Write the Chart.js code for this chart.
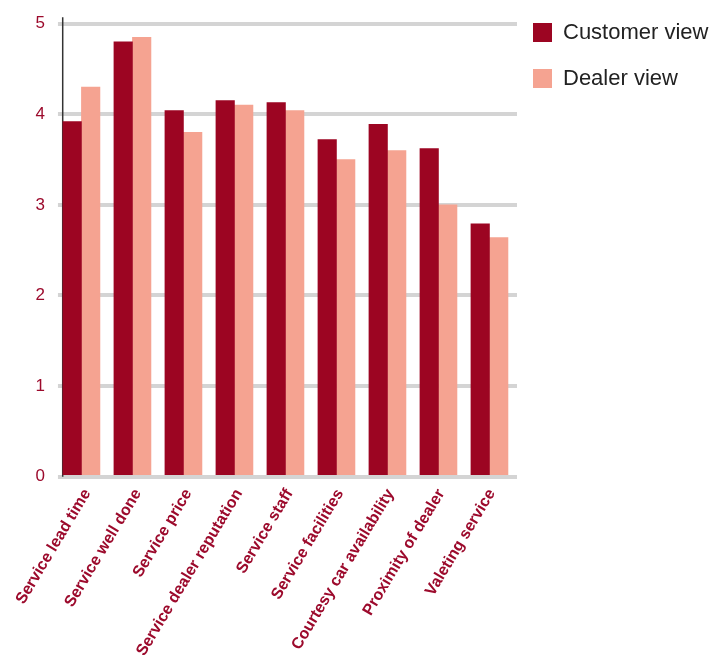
<!DOCTYPE html>
<html>
<head>
<meta charset="utf-8">
<script src="https://cdn.jsdelivr.net/npm/chart.js@4/dist/chart.umd.min.js"></script>
<style>
  html, body { margin: 0; padding: 0; background: #fff; }
  #wrap { width: 714px; height: 662px; }
</style>
</head>
<body>
<div id="wrap"><canvas id="grafico"></canvas></div>
<script>
const categorias = [
    "Service lead time",
    "Service well done",
    "Service price",
    "Service dealer reputation",
    "Service staff",
    "Service facilities",
    "Courtesy car availability",
    "Proximity of dealer",
    "Valeting service"
]
const customerView = [3.92, 4.80, 4.04, 4.15, 4.13, 3.72, 3.89, 3.62, 2.79]
const dealerView = [4.30, 4.85, 3.80, 4.10, 4.04, 3.50, 3.60, 3.00, 2.64]
const yTicks = [0, 1, 2, 3, 4, 5]

const VERMELHO = '#9c0522'
const SALMAO = '#f5a391'
const TEXTO = '#9c0a2c'

Chart.defaults.font.family = 'Liberation Sans'

// linha do eixo y, comeca um pouco acima do 5
const eixoY = {
    id: 'eixoY',
    beforeDatasetsDraw(chart) {
        const { ctx, chartArea, scales } = chart
        const topo = scales.y.getPixelForValue(5.07)
        ctx.save()
        ctx.strokeStyle = '#333'
        ctx.lineWidth = 1.5
        ctx.beginPath()
        ctx.moveTo(chartArea.left + 0.75, topo)
        ctx.lineTo(chartArea.left + 0.75, chartArea.bottom)
        ctx.stroke()
        ctx.restore()
    }
}

const ctx = document.getElementById('grafico')
new Chart(ctx, {
    type: 'bar',
    data: {
        labels: categorias,
        datasets: [
            {
                label: 'Customer view',
                data: customerView.map((v, i) => ({ x: i, y: v })),
                backgroundColor: VERMELHO,
                xAxisID: 'xb',
                barThickness: 18.5
            },
            {
                label: 'Dealer view',
                data: dealerView.map((v, i) => ({ x: i, y: v })),
                backgroundColor: SALMAO,
                xAxisID: 'xb',
                barThickness: 18.5
            }
        ]
    },
    options: {
        responsive: true,
        maintainAspectRatio: false,
        animation: false,
        layout: { padding: { top: 5.5, left: 22.5, right: 0, bottom: -6.5 } },
        plugins: {
            tooltip: { enabled: false },
            legend: {
                position: 'right',
                align: 'start',
                maxWidth: 197,
                labels: {
                    color: '#222',
                    font: { size: 22, lineHeight: 30 / 22 },
                    boxWidth: 19,
                    boxHeight: 19,
                    padding: 16,
                    generateLabels(chart) {
                        // texto em array: o passo entre itens segue o lineHeight
                        const itens = Chart.defaults.plugins.legend.labels.generateLabels(chart)
                        itens.forEach(it => { it.text = [it.text] })
                        return itens
                    }
                }
            }
        },
        scales: {
            // eixo dos nomes
            x: {
                type: 'category',
                offset: true,
                grid: { display: false, drawTicks: false },
                border: { display: false },
                ticks: {
                    color: TEXTO,
                    font: { size: 16, weight: 'bold' },
                    minRotation: 59,
                    maxRotation: 59,
                    autoSkip: false,
                    padding: 9
                },
                afterFit(scale) {
                    scale.paddingLeft = 0
                    scale.paddingRight = 0
                }
            },
            // eixo escondido onde ficam as barras (par encostado a esquerda da categoria)
            xb: {
                type: 'linear',
                display: false,
                offset: false,
                min: -0.382,
                max: 8.54
            },
            y: {
                min: 0,
                max: 5.2,
                afterBuildTicks(scale) {
                    scale.ticks = yTicks.map(v => ({ value: v }))
                },
                afterFit(scale) {
                    scale.paddingTop = 0
                    scale.paddingBottom = 0
                },
                grid: { color: '#d4d4d4', lineWidth: 4, tickLength: 4 },
                border: { display: false },
                ticks: {
                    color: TEXTO,
                    font: { size: 17 },
                    padding: 13
                }
            }
        }
    },
    plugins: [eixoY]
})
</script>
</body>
</html>
